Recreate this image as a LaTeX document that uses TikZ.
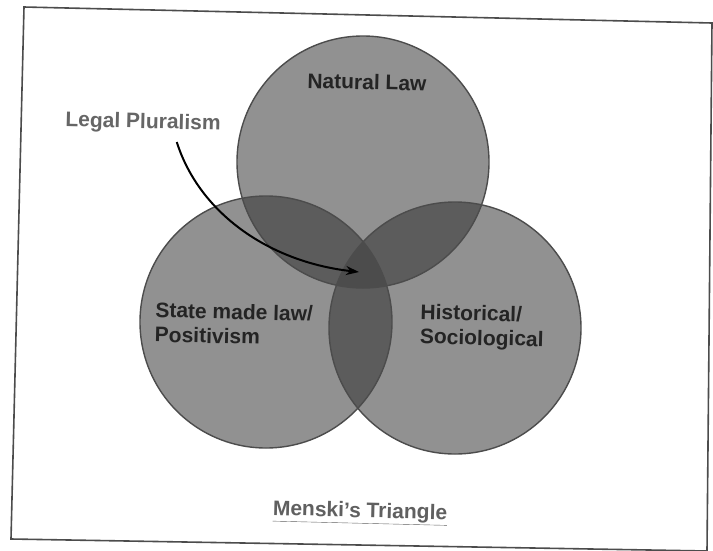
\documentclass[tikz,border=0pt]{standalone}
\usepackage{fontspec}
\setmainfont{Liberation Sans}
\usetikzlibrary{arrows.meta}
\definecolor{single}{gray}{0.57}
\definecolor{pair}{gray}{0.36}
\definecolor{triple}{gray}{0.30}
\definecolor{rim}{gray}{0.30}
\definecolor{ink}{gray}{0.14}
\definecolor{framec}{gray}{0.30}
\begin{document}
\begin{tikzpicture}[x=1pt,y=-1pt,
  lbl/.style={font=\fontsize{21}{24.5}\selectfont\bfseries, text=ink, inner sep=0pt, rotate=-1.4},
  rimline/.style={draw=rim, line width=1.4pt},
  framebox/.style={draw=framec, line width=1.6pt},
  pointer/.style={-{Stealth[length=13pt,width=9pt]}, line width=2pt, black}]
\useasboundingbox (0,0) rectangle (713,550);
\fill[white] (0,0) rectangle (713,550);
\draw[framebox] (24,7) -- (712,23) -- (707,551) -- (11,539) -- cycle;
\def\rad{126pt}
\coordinate (T) at (363,162);
\coordinate (L) at (266,322);
\coordinate (R) at (455,328);
% single fills
\fill[single] (T) circle (\rad);
\fill[single] (L) circle (\rad);
\fill[single] (R) circle (\rad);
% pair overlaps
\begin{scope}\clip (T) circle (\rad); \fill[pair] (L) circle (\rad);\end{scope}
\begin{scope}\clip (T) circle (\rad); \fill[pair] (R) circle (\rad);\end{scope}
\begin{scope}\clip (L) circle (\rad); \fill[pair] (R) circle (\rad);\end{scope}
% triple overlap
\begin{scope}\clip (T) circle (\rad); \clip (L) circle (\rad); \fill[triple] (R) circle (\rad);\end{scope}
% outlines
\draw[rimline] (T) circle (\rad);
\draw[rimline] (L) circle (\rad);
\draw[rimline] (R) circle (\rad);
% labels
\node[lbl] (nat) at (367,82) {Natural Law};
\node[lbl, anchor=west, align=left] (state) at (155,322) {State made law/\\Positivism};
\node[lbl, anchor=west, align=left] (hist) at (420,326) {Historical/\\Sociological};
\node[lbl, text=gray!80!black] (lp) at (143,123) {Legal Pluralism};
\node[lbl, text=gray!75!black] (title) at (360,513) {\underline{Menski's Triangle}};
\coordinate (tip) at (359,272);
\draw[pointer] ([xshift=34pt,yshift=-9pt]lp.south) .. controls +(23,72) and +(-89,-10) .. (tip);
\end{tikzpicture}
\end{document}
